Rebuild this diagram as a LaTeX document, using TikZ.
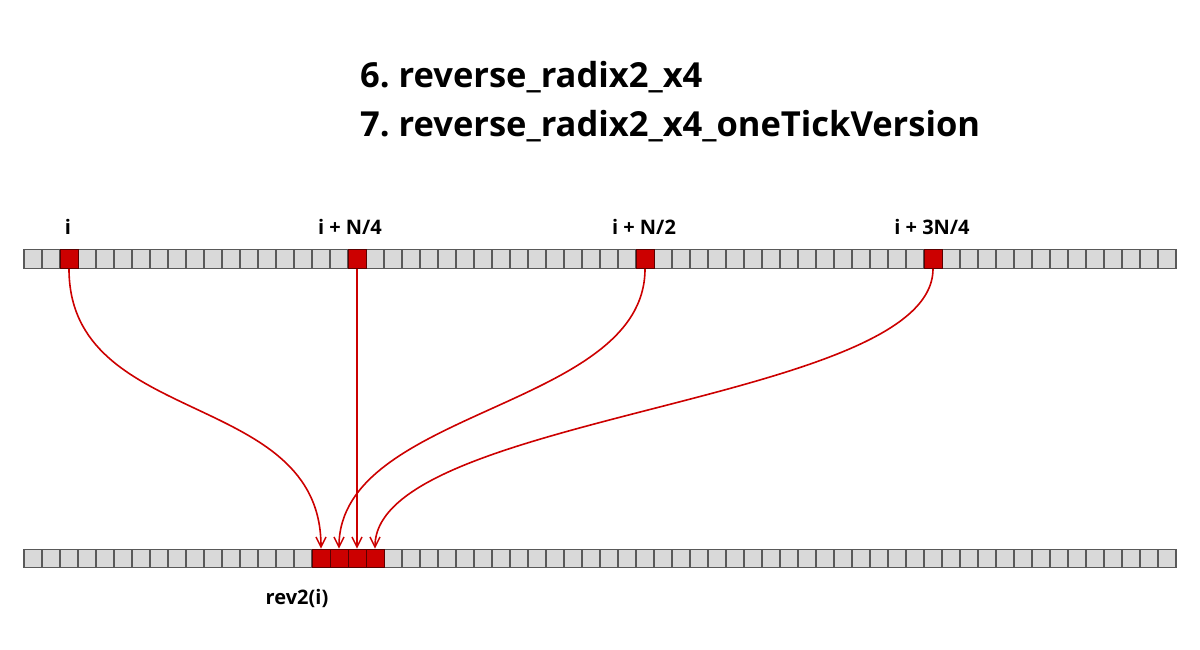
\documentclass[tikz,border=0pt]{standalone}
\usepackage{fontspec}
\setmainfont{Open Sans}
\frenchspacing
\usetikzlibrary{arrows.meta}
\definecolor{cellfill}{HTML}{D9D9D9}
\definecolor{cellline}{HTML}{595959}
\definecolor{hired}{HTML}{CC0000}
\definecolor{hiredline}{HTML}{5A0000}
\tikzset{
  cell/.style={rectangle, minimum width=18pt, minimum height=18.5pt, inner sep=0pt,
    fill=cellfill, draw=cellline, line width=1.2pt},
  hot/.style={fill=hired, draw=hiredline, line width=1pt},
  arr/.style={draw=hired, line width=1.6pt, -{Straight Barb[length=10pt,width=10pt,line width=1.5pt]}},
  lbl/.style={font=\bfseries\fontsize{20}{24}\selectfont, inner sep=0pt, anchor=base},
  ttl/.style={font=\bfseries\fontsize{34.5}{42}\selectfont, inner sep=0pt, anchor=base west}
}
\begin{document}
\begin{tikzpicture}[x=1pt,y=-1pt]
\useasboundingbox (0,0) rectangle (1200,650);
% titles
\node[ttl] (t6) at (360,88) {6. reverse\_radix2\_x4};
\node[ttl] (t7) at (360,137) {7. reverse\_radix2\_x4\_oneTickVersion};
% rows
\foreach \k in {0,...,63}{
  \node[cell] (t\k) at ({24+9+18*\k},259) {};
  \node[cell] (b\k) at ({24+9+18*\k},558.5) {};
}
\foreach \k in {2,18,34,50}{ \node[cell,hot] at (t\k) {}; }
\foreach \k in {16,17,18,19}{ \node[cell,hot] at (b\k) {}; }
% labels
\node[lbl] (li) at (68,234) {i};
\node[lbl] (l1) at (350,234) {i + N/4};
\node[lbl] (l2) at (644,234) {i + N/2};
\node[lbl] (l3) at (932,234) {i + 3N/4};
\node[lbl] (lr) at (297,604) {rev2(i)};
% connectors
\draw[arr] (t2.south) .. controls +(0,160) and +(0,-160) .. (b16.north);
\draw[arr] (t34.south) .. controls +(0,140) and +(0,-140) .. (b17.north);
\draw[arr] (t18.south) -- (b18.north);
\draw[arr] (t50.south) .. controls +(0,135) and +(0,-135) .. (b19.north);
\end{tikzpicture}
\end{document}
